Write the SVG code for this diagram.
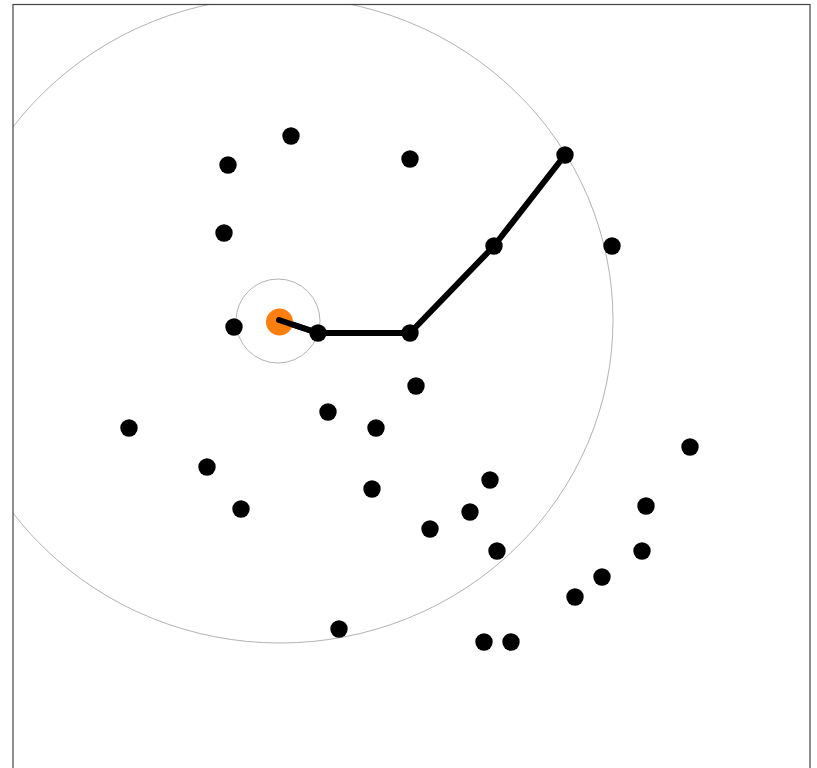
<svg xmlns="http://www.w3.org/2000/svg" width="817" height="768" viewBox="0 0 817 768">
<style>
.dot{fill:#000}
.ring{fill:none;stroke:#b3b3b3;stroke-width:1}
.edge{fill:none;stroke:#000;stroke-width:6;stroke-linecap:round;stroke-linejoin:round}
</style>
<defs>
<clipPath id="frameclip"><rect x="13" y="5" width="797" height="800"/></clipPath>
</defs>
<rect width="817" height="768" fill="#fff"/>
<g id="rings" clip-path="url(#frameclip)">
<ellipse class="ring" cx="280" cy="320" rx="333" ry="323"/>
<circle class="ring" cx="278" cy="321" r="42"/>
</g>
<g id="connectors">
<polyline class="edge" points="279,320 318,333 410,333 494,246 565,155"/>
</g>
<g id="nodes">
<g id="n1"><circle class="dot" cx="291" cy="136" r="8.7"/></g>
<g id="n2"><circle class="dot" cx="228" cy="165" r="8.7"/></g>
<g id="n3"><circle class="dot" cx="410" cy="159" r="8.7"/></g>
<g id="n4"><circle class="dot" cx="565" cy="155" r="8.7"/></g>
<g id="n5"><circle class="dot" cx="224" cy="233" r="8.7"/></g>
<g id="n6"><circle class="dot" cx="494" cy="246" r="8.7"/></g>
<g id="n7"><circle class="dot" cx="612" cy="246" r="8.7"/></g>
<g id="n8"><circle class="dot" cx="234" cy="327" r="8.7"/></g>
<g id="n9"><circle class="dot" cx="318" cy="333" r="8.7"/></g>
<g id="n10"><circle class="dot" cx="410" cy="333" r="8.7"/></g>
<g id="n11"><circle class="dot" cx="416" cy="386" r="8.7"/></g>
<g id="n12"><circle class="dot" cx="328" cy="412" r="8.7"/></g>
<g id="n13"><circle class="dot" cx="376" cy="428" r="8.7"/></g>
<g id="n14"><circle class="dot" cx="129" cy="428" r="8.7"/></g>
<g id="n15"><circle class="dot" cx="690" cy="447" r="8.7"/></g>
<g id="n16"><circle class="dot" cx="207" cy="467" r="8.7"/></g>
<g id="n17"><circle class="dot" cx="490" cy="480" r="8.7"/></g>
<g id="n18"><circle class="dot" cx="372" cy="489" r="8.7"/></g>
<g id="n19"><circle class="dot" cx="241" cy="509" r="8.7"/></g>
<g id="n20"><circle class="dot" cx="470" cy="512" r="8.7"/></g>
<g id="n21"><circle class="dot" cx="646" cy="506" r="8.7"/></g>
<g id="n22"><circle class="dot" cx="430" cy="529" r="8.7"/></g>
<g id="n23"><circle class="dot" cx="497" cy="551" r="8.7"/></g>
<g id="n24"><circle class="dot" cx="642" cy="551" r="8.7"/></g>
<g id="n25"><circle class="dot" cx="602" cy="577" r="8.7"/></g>
<g id="n26"><circle class="dot" cx="575" cy="597" r="8.7"/></g>
<g id="n27"><circle class="dot" cx="339" cy="629" r="8.7"/></g>
<g id="n28"><circle class="dot" cx="484" cy="642" r="8.7"/></g>
<g id="n29"><circle class="dot" cx="511" cy="642" r="8.7"/></g>
<g id="start"><circle cx="279.5" cy="322" r="13.5" fill="#ff7f0e"/></g>
</g>
<g id="start-edge">
<line x1="279" y1="320" x2="318" y2="333" stroke="#000" stroke-width="6" stroke-linecap="round"/>
</g>
<rect x="13" y="4.5" width="797" height="800" fill="none" stroke="#444" stroke-width="1.2"/>
</svg>
